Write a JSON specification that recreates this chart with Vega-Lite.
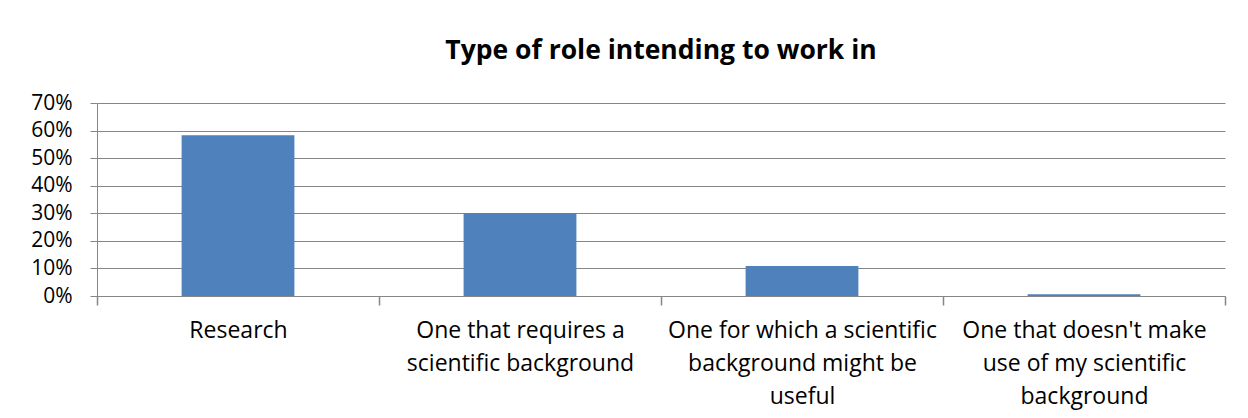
{
  "$schema": "https://vega.github.io/schema/vega-lite/v6.json",
  "autosize": "none",
  "width": 1128,
  "height": 193,
  "padding": {"left": 97, "top": 103, "right": 23, "bottom": 122},
  "background": "white",
  "title": {
    "text": "Type of role intending to work in",
    "font": "Open Sans",
    "fontSize": 26.5,
    "fontWeight": "bold",
    "color": "black",
    "anchor": "middle",
    "offset": 28
  },
  "data": {
    "values": [
      {"role": "Research", "share": 0.583},
      {"role": "One that requires a scientific background", "share": 0.301},
      {"role": "One for which a scientific background might be useful", "share": 0.109},
      {"role": "One that doesn't make use of my scientific background", "share": 0.006}
    ]
  },
  "mark": {"type": "bar", "color": "#4F81BD", "width": {"band": 0.4}},
  "encoding": {
    "x": {
      "field": "role",
      "type": "nominal",
      "sort": null,
      "title": null,
      "scale": {"paddingInner": 0, "paddingOuter": 0},
      "axis": {
        "labelAngle": 0,
        "labelFont": "Open Sans",
        "labelFontSize": 23,
        "labelColor": "black",
        "labelLineHeight": 33,
        "labelPadding": 14,
        "labelLimit": 400,
        "ticks": true,
        "tickBand": "extent",
        "tickColor": "#868686",
        "tickOpacity": 1,
        "tickSize": 9,
        "tickWidth": 1.5,
        "domainColor": "#868686",
        "grid": false,
        "labelExpr": "datum.value == 'Research' ? 'Research' : datum.value == 'One that requires a scientific background' ? ['One that requires a', 'scientific background'] : datum.value == 'One for which a scientific background might be useful' ? ['One for which a scientific', 'background might be', 'useful'] : datum.value == 'One that doesn\\'t make use of my scientific background' ? ['One that doesn\\'t make', 'use of my scientific', 'background'] : ''"
      }
    },
    "y": {
      "field": "share",
      "type": "quantitative",
      "title": null,
      "scale": {"domain": [0, 0.7], "nice": false},
      "axis": {
        "format": ".0%",
        "values": [0, 0.1, 0.2, 0.3, 0.4, 0.5, 0.6, 0.7],
        "labelFont": "Open Sans",
        "labelFontSize": 21,
        "labelColor": "black",
        "labelPadding": 18,
        "tickColor": "#868686",
        "tickSize": 7,
        "domainColor": "#868686",
        "gridColor": "#868686",
        "gridOpacity": 1
      }
    }
  },
  "config": {"view": {"stroke": null}}
}
